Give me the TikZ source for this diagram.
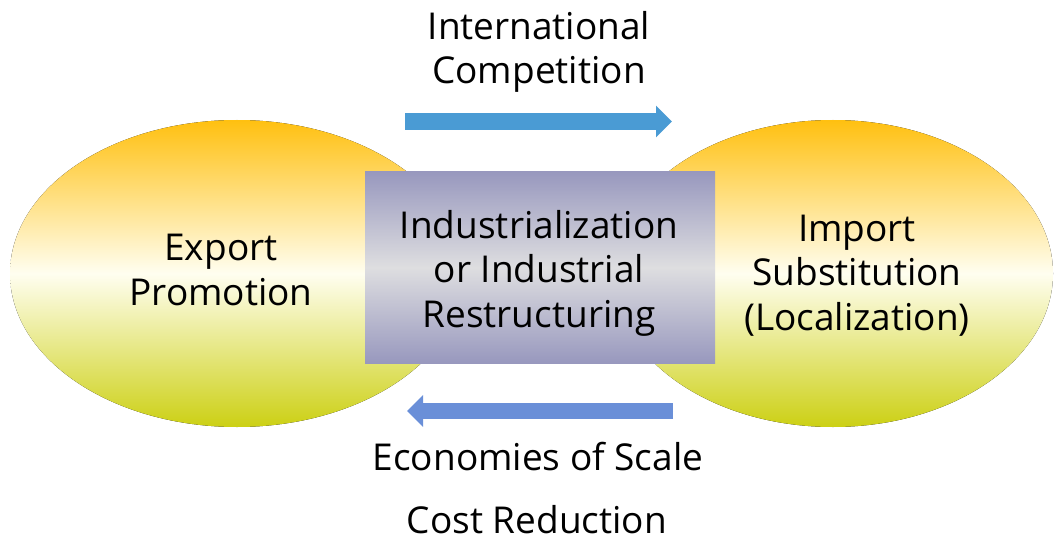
\documentclass[tikz,border=0pt]{standalone}
\usepackage{fontspec}
\setmainfont{Open Sans}
\usetikzlibrary{arrows.meta}
\definecolor{elltop}{RGB}{255,192,16}
\definecolor{ellmid}{RGB}{255,254,240}
\definecolor{ellbot}{RGB}{204,208,20}
\definecolor{boxedge}{RGB}{152,152,190}
\definecolor{boxmid}{RGB}{222,222,224}
\definecolor{arrowA}{RGB}{74,155,212}
\definecolor{arrowB}{RGB}{106,143,216}
\tikzset{
  centerbox/.style={rectangle, top color=boxedge, bottom color=boxedge, middle color=boxmid, draw=none, minimum width=350pt, minimum height=191pt},
  lbl/.style={font=\fontsize{37}{44.5}\selectfont, align=center, text=black, inner sep=0pt},
  blockarrow/.style={line width=17pt, line cap=butt, -{Triangle[width=31pt,length=16pt]}},
}
\begin{document}
\begin{tikzpicture}[x=1pt,y=-1pt]
\useasboundingbox (0,0) rectangle (1054,540);
% ellipses
\fill[top color=elltop, bottom color=ellbot, middle color=ellmid] (237,273.5) ellipse [x radius=227, y radius=153.5];
\fill[top color=elltop, bottom color=ellbot, middle color=ellmid] (833,273.5) ellipse [x radius=220, y radius=153.5];
% centre box
\node[centerbox] (center) at (540,267.5) {};
% texts (base anchor = baseline of the last line)
\node[lbl, anchor=base] (ep) at (221,305) {Export\\Promotion};
\node[lbl, anchor=base] (is) at (857,330) {Import\\Substitution\\(Localization)};
\node[lbl, anchor=base] (ind) at (539,327) {Industrialization\\or Industrial\\Restructuring};
\node[lbl, anchor=base] (ic) at (539,84) {International\\Competition};
\node[lbl, anchor=base] (es) at (538,470) {Economies of Scale};
\node[lbl, anchor=base] (cr) at (537,533) {Cost Reduction};
% arrows
\coordinate (a1s) at (405,121.5);
\coordinate (a1e) at (672,121.5);
\draw[blockarrow, draw=arrowA, fill=arrowA] (a1s) -- (a1e);
\coordinate (a2s) at (673,411);
\coordinate (a2e) at (407,411);
\draw[blockarrow, line width=16pt, draw=arrowB, fill=arrowB] (a2s) -- (a2e);
\end{tikzpicture}
\end{document}
